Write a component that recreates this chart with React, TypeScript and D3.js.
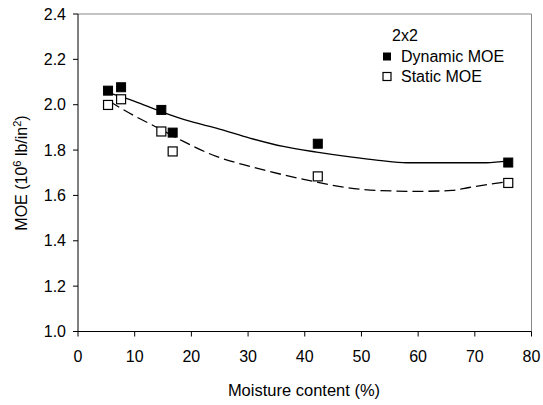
import React from "react";
import * as d3 from "d3";

const xTicks = [0, 10, 20, 30, 40, 50, 60, 70, 80];
const yTicks = [1.0, 1.2, 1.4, 1.6, 1.8, 2.0, 2.2, 2.4];

const dynamicX = [5.3, 7.6, 14.7, 16.7, 42.3, 75.9];
const dynamicY = [2.062, 2.077, 1.977, 1.877, 1.828, 1.745];
const staticX = [5.3, 7.6, 14.7, 16.7, 42.3, 75.9];
const staticY = [1.999, 2.024, 1.882, 1.794, 1.684, 1.655];

const dynTrendX = [5.3, 10, 14.4, 20, 24.4, 30.3, 36.2, 42.1, 48, 53, 58, 65, 72, 76];
const dynTrendY = [2.053, 2.015, 1.972, 1.925, 1.897, 1.853, 1.816, 1.791, 1.77, 1.755, 1.744, 1.744, 1.744, 1.752];
const staTrendX = [5.6, 10, 14.1, 18.6, 24.4, 30.3, 36.2, 41.5, 46, 52.7, 60, 66, 69, 75.6];
const staTrendY = [2.014, 1.95, 1.898, 1.838, 1.772, 1.728, 1.691, 1.662, 1.64, 1.622, 1.618, 1.622, 1.635, 1.66];

const font = "'Liberation Sans', Arial, sans-serif";

export default function App() {
  const W = 543, H = 405;
  const left = 78, right = 531.5, top = 14, bottom = 331.5;
  const x = d3.scaleLinear().domain([0, 80]).range([left, right]);
  const y = d3.scaleLinear().domain([1.0, 2.4]).range([bottom, top]);
  const line = d3.line<[number, number]>().x(d => x(d[0])).y(d => y(d[1])).curve(d3.curveMonotoneX);
  const dynPath = line(dynTrendX.map((v, i) => [v, dynTrendY[i]]) as [number, number][]) || "";
  const staPath = line(staTrendX.map((v, i) => [v, staTrendY[i]]) as [number, number][]) || "";
  const ms = 9;
  const fs = 16;
  return (
    <svg width={W} height={H} style={{ position: "absolute", left: 0, top: 0, background: "#fff" }} fontFamily={font}>
      <rect x={0} y={0} width={W} height={H} fill="#fff" />
      <line x1={left} x2={right} y1={top} y2={top} stroke="#888" strokeWidth={1} />
      <line x1={right} x2={right} y1={top} y2={bottom} stroke="#888" strokeWidth={1} />
      <line x1={left} x2={left} y1={top} y2={bottom} stroke="#000" strokeWidth={1} />
      <line x1={left} x2={right} y1={bottom} y2={bottom} stroke="#000" strokeWidth={1} />
      {yTicks.map(t => (
        <g key={"y" + t}>
          <line x1={left - 5} x2={left} y1={y(t)} y2={y(t)} stroke="#000" />
          <text x={left - 12} y={y(t)} dy="0.35em" textAnchor="end" fontSize={fs}>{t.toFixed(1)}</text>
        </g>
      ))}
      {xTicks.map(t => (
        <g key={"x" + t}>
          <line x1={x(t)} x2={x(t)} y1={bottom} y2={bottom + 5} stroke="#000" />
          <text x={x(t)} y={356} dy="0.35em" textAnchor="middle" fontSize={fs}>{t}</text>
        </g>
      ))}
      <text x={304} y={390} dy="0.35em" textAnchor="middle" fontSize={16.5}>Moisture content (%)</text>
      <text transform={`translate(21,173) rotate(-90)`} textAnchor="middle" dy="0.35em" fontSize={16}>
        MOE (10<tspan dy="-6" fontSize={11}>6</tspan><tspan dy="6"> lb/in</tspan><tspan dy="-6" fontSize={11}>2</tspan><tspan dy="6">)</tspan>
      </text>
      <path d={dynPath} fill="none" stroke="#000" strokeWidth={1.3} />
      <path d={staPath} fill="none" stroke="#000" strokeWidth={1.3} strokeDasharray="11,5" />
      {dynamicX.map((v, i) => (
        <rect key={"d" + i} x={x(v) - ms / 2} y={y(dynamicY[i]) - ms / 2} width={ms} height={ms} fill="#000" stroke="#000" />
      ))}
      {staticX.map((v, i) => (
        <rect key={"s" + i} x={x(v) - ms / 2} y={y(staticY[i]) - ms / 2} width={ms} height={ms} fill="#fff" stroke="#000" strokeWidth={1.2} />
      ))}
      <text x={392} y={35} dy="0.35em" fontSize={fs}>2x2</text>
      <rect x={383} y={52.5} width={8} height={8} fill="#000" />
      <text x={401} y={56.5} dy="0.35em" fontSize={fs}>Dynamic MOE</text>
      <rect x={383} y={72.5} width={8} height={8} fill="#fff" stroke="#000" strokeWidth={1.2} />
      <text x={401} y={76.5} dy="0.35em" fontSize={fs}>Static MOE</text>
    </svg>
  );
}
